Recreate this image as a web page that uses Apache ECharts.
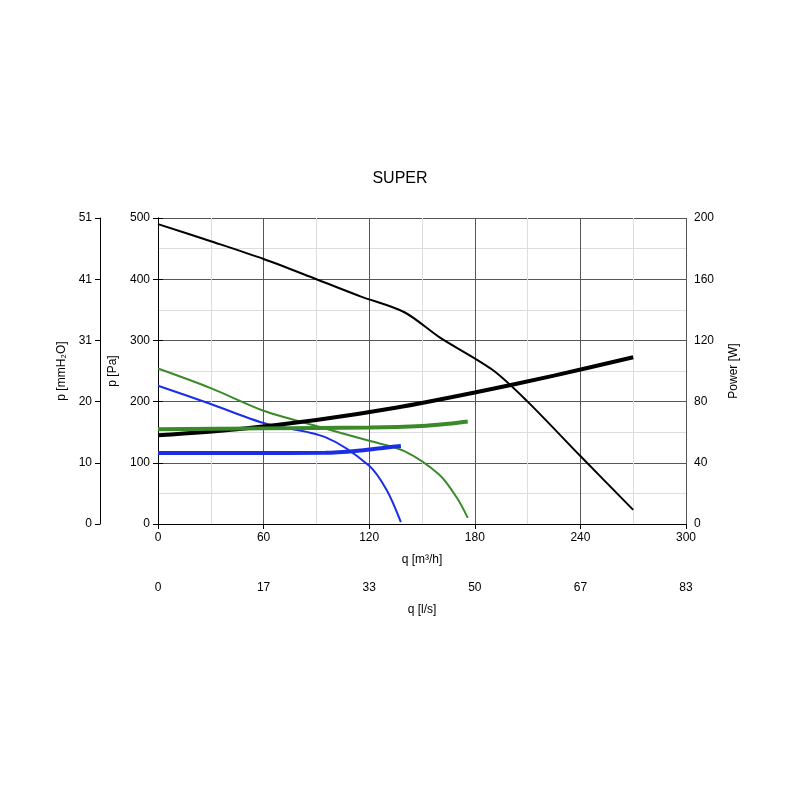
<!DOCTYPE html>
<html><head><meta charset="utf-8">
<script src="https://cdn.jsdelivr.net/npm/echarts@6/dist/echarts.min.js"></script>
<style>html,body{margin:0;background:#fff}#c{width:800px;height:800px}</style></head>
<body><div id="c"></div>
<script>
const xTicksLs = ['0','17','33','50','67','83'];
const yTicksMm = ['0','10','20','31','41','51'];
const pressureBlack = [[0,490],[30,462],[60,433],[90,400],[115,372],[140,346],[160,305],[190,252],[210,200],[240,111],[270,23]];
const powerBlack = [[0,58],[45,62],[90,68],[135,76],[180,86],[225,97],[270,109]];
const pressureGreen = [[0,254],[30,222],[60,185],[90,160],[120,136],[140,119],[160,80],[170,42],[176,10]];
const powerGreen = [[0,62],[60,62.5],[120,63],[150,64],[165,65.5],[176,67]];
const pressureBlue = [[0,226],[30,196],[60,165],[95,142],[120,95],[130,55],[138,3]];
const powerBlue = [[0,46.4],[50,46.4],[95,46.5],[115,48],[130,50],[138,51]];
const font = 'Arial, "Liberation Sans", sans-serif';
const ax = {axisLine:{show:true,lineStyle:{color:'#000'}},axisTick:{show:true,lineStyle:{color:'#000'}},axisLabel:{color:'#000',fontSize:12,fontFamily:font},nameTextStyle:{color:'#000',fontSize:12,fontFamily:font}};
const chart = echarts.init(document.getElementById('c'));
function line(data, y, color, w){return {type:'line',data,yAxisIndex:y,smooth:0.3,symbol:'none',lineStyle:{color,width:w},z:w>2?3:2};}
chart.setOption({
  animation:false,
  title:{text:'SUPER',left:'center',top:166,textStyle:{fontSize:16,fontWeight:'normal',color:'#000',fontFamily:font}},
  grid:{left:158,right:114,top:218,bottom:276},
  xAxis:[
    Object.assign({},ax,{type:'value',min:0,max:300,interval:60,name:'q [m³/h]',nameLocation:'middle',nameGap:30,
      splitLine:{show:true,lineStyle:{color:'#555'}},minorTick:{show:false,splitNumber:2},minorSplitLine:{show:true,lineStyle:{color:'#ddd'}}}),
    Object.assign({},ax,{type:'value',min:0,max:300,interval:60,position:'bottom',offset:50,name:'q [l/s]',nameLocation:'middle',nameGap:30,
      splitLine:{show:false},axisLabel:Object.assign({},ax.axisLabel,{formatter:(v)=>xTicksLs[Math.round(v/60)]})})
  ],
  yAxis:[
    Object.assign({},ax,{type:'value',min:0,max:500,interval:100,name:'p [Pa]',nameLocation:'middle',nameGap:38,
      splitLine:{show:true,lineStyle:{color:'#555'}},minorTick:{show:false,splitNumber:2},minorSplitLine:{show:true,lineStyle:{color:'#ddd'}}}),
    Object.assign({},ax,{type:'value',min:0,max:200,interval:40,position:'right',name:'Power [W]',nameLocation:'middle',nameGap:42,splitLine:{show:false}}),
    Object.assign({},ax,{type:'value',min:0,max:500,interval:100,position:'left',offset:58,name:'p [mmH₂O]',nameLocation:'middle',nameGap:32,
      splitLine:{show:false},axisLabel:Object.assign({},ax.axisLabel,{formatter:(v)=>yTicksMm[Math.round(v/100)]})})
  ],
  series:[
    line(pressureBlack,0,'#000',2), line(powerBlack,1,'#000',4),
    line(pressureGreen,0,'#3a8a2a',2), line(powerGreen,1,'#3a8a2a',4),
    line(pressureBlue,0,'#1a2ee8',2), line(powerBlue,1,'#1a2ee8',4)
  ]
});
</script></body></html>
